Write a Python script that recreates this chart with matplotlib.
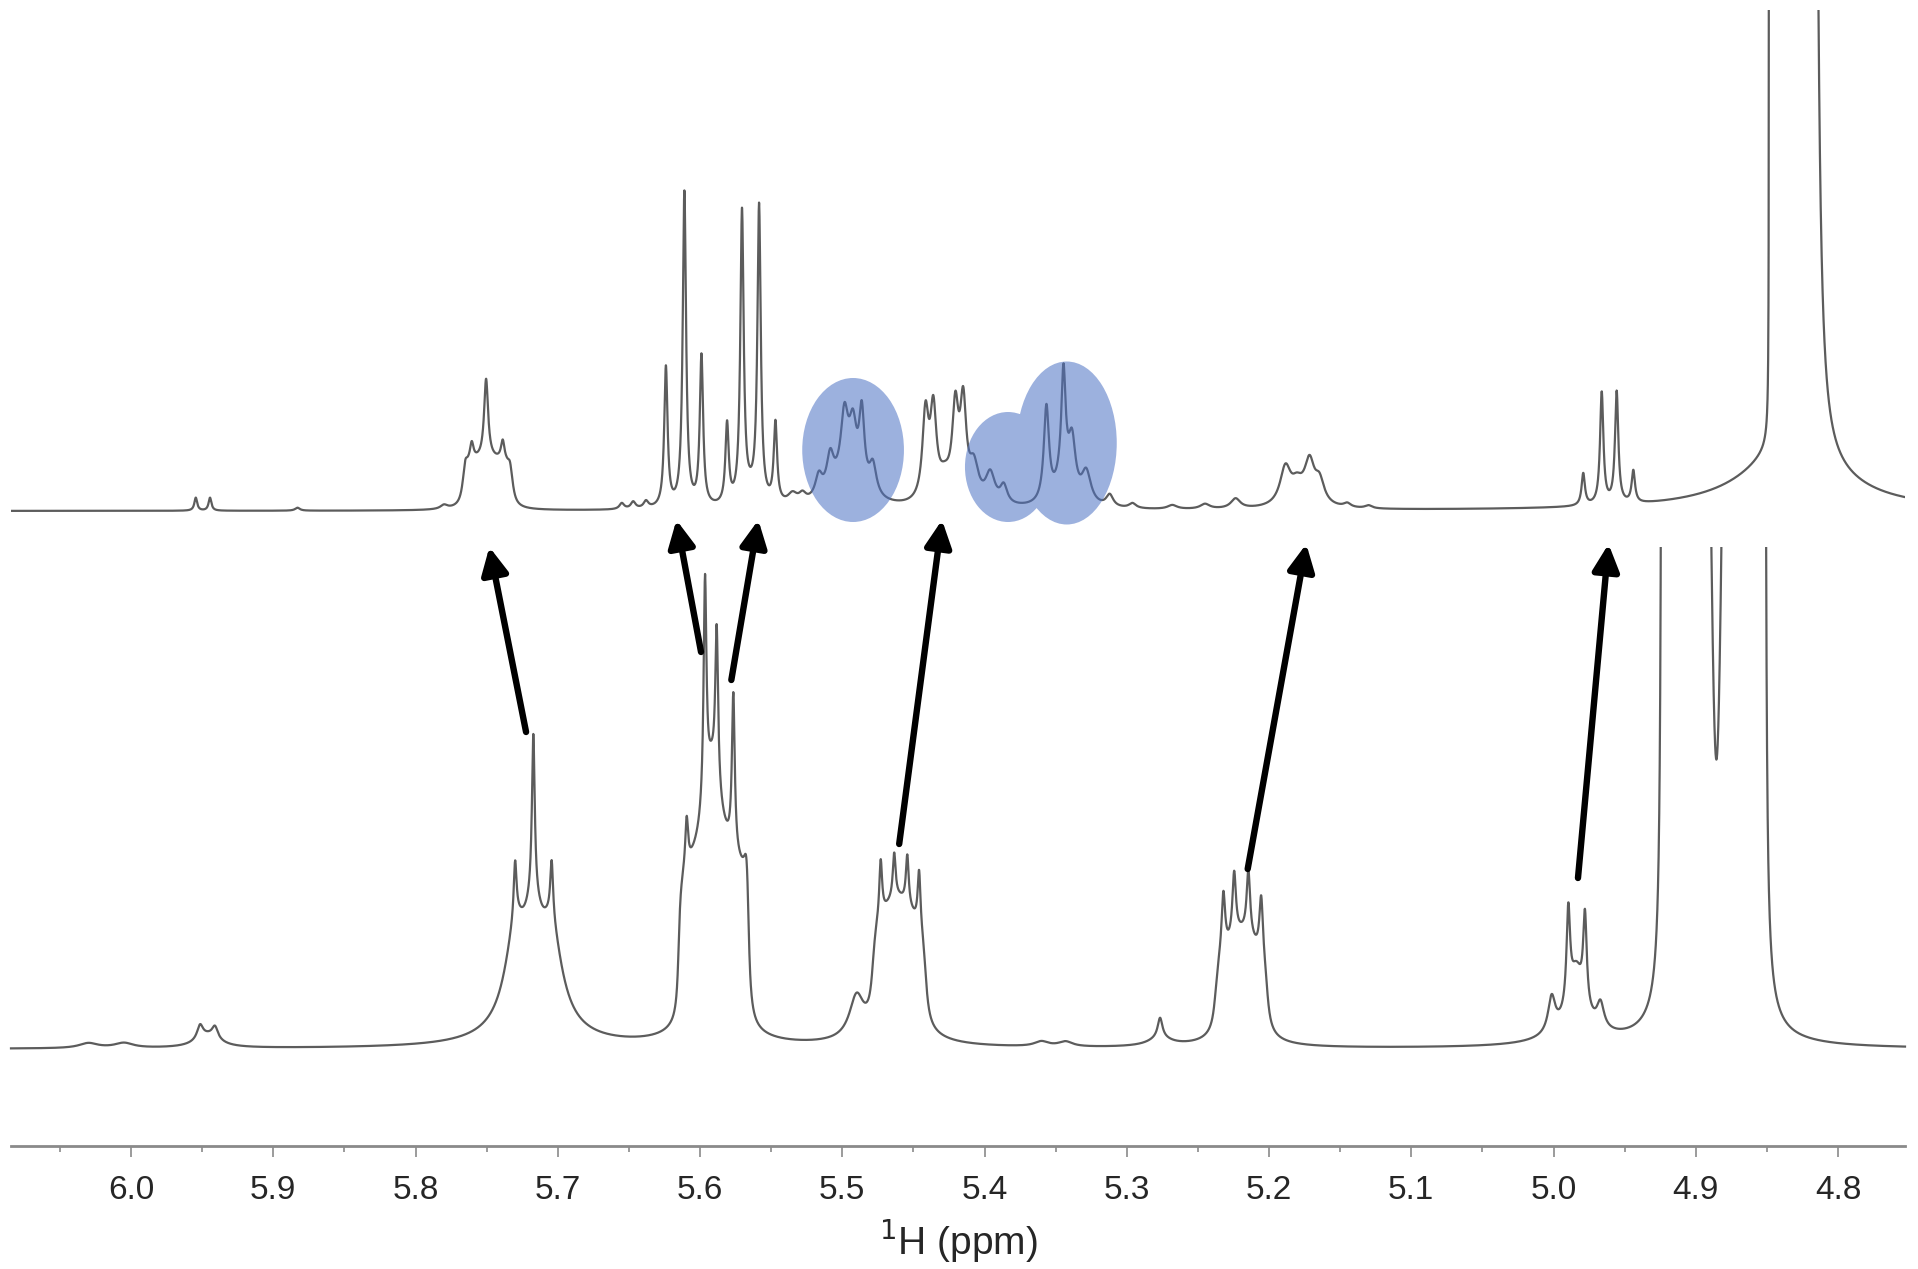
import numpy as np
import matplotlib
matplotlib.use('Agg')
import matplotlib.pyplot as plt
from matplotlib.patches import Ellipse, PathPatch, Rectangle
from matplotlib.path import Path
from matplotlib.ticker import MultipleLocator, FormatStrFormatter

plt.rcParams['font.family'] = ['Liberation Sans', 'DejaVu Sans']

# spectral window (ppm, axis runs high -> low)
ppm_left, ppm_right = 6.0844, 4.7529

# upper spectrum: lorentzian lines
top_ppm = [5.9545, 5.9445, 5.8830, 5.7800,
           5.7650, 5.7605, 5.7504, 5.7387, 5.7336,
           5.6550, 5.6470, 5.6380,
           5.6240, 5.6110, 5.5990, 5.5810, 5.5705, 5.5585, 5.5470, 5.5645, 5.5350, 5.5280,
           5.5165, 5.5085, 5.4985, 5.4925, 5.4863, 5.4785, 5.4960,
           5.4415, 5.4360, 5.4205, 5.4150, 5.4280,
           5.4075, 5.3960, 5.3865,
           5.3565, 5.3445, 5.3385, 5.3285, 5.3120, 5.3450,
           5.2960, 5.2680, 5.2450, 5.2235,
           5.1885, 5.1805, 5.1715, 5.1645, 5.1780, 5.1450, 5.1300,
           4.9791, 4.9661, 4.9556, 4.9439,
           4.8175, 4.8320]
top_height = [13, 13, 3, 4,
              10, 18, 80, 20, 8,
              6, 7, 7,
              140, 315, 150, 80, 290, 295, 80, 10, 10, 8,
              22, 35, 60, 48, 72, 30, 32,
              85, 85, 85, 92, 22,
              35, 30, 18,
              95, 105, 55, 32, 12, 25,
              5, 4, 5, 10,
              36, 10, 37, 22, 12, 4, 3,
              32, 112, 112, 32,
              2000, 62]
top_width = [0.0012, 0.0012, 0.002, 0.003,
             0.0015, 0.0015, 0.0017, 0.0015, 0.0015,
             0.002, 0.002, 0.002,
             0.0014, 0.0014, 0.0014, 0.0014, 0.0014, 0.0014, 0.0014, 0.006, 0.004, 0.003,
             0.003, 0.003, 0.003, 0.003, 0.0022, 0.003, 0.012,
             0.0026, 0.0026, 0.0026, 0.0026, 0.006,
             0.004, 0.004, 0.003,
             0.0022, 0.0018, 0.003, 0.004, 0.003, 0.006,
             0.003, 0.004, 0.004, 0.004,
             0.0045, 0.004, 0.004, 0.004, 0.010, 0.003, 0.003,
             0.0014, 0.0014, 0.0014, 0.0014,
             0.002, 0.038]
# broad / saturated signals (flat top between lo and hi)
top_block_lo = [5.7320, 4.8175]
top_block_hi = [5.7665, 4.8485]
top_block_height = [55, 6000]
top_block_edge = [0.002, 0.00003]

# lower spectrum
bot_ppm = [6.0300, 6.0050, 5.9515, 5.9410, 5.9460,
           5.7300, 5.7172, 5.7043, 5.7170, 5.7300, 5.7172, 5.7043,
           5.5900, 5.5920, 5.6094, 5.5965, 5.5883, 5.5766, 5.5672,
           5.4610, 5.4900, 5.4730, 5.4635, 5.4543, 5.4460,
           5.3600, 5.3430, 5.2766, 5.2766,
           5.2190, 5.2321, 5.2245, 5.2145, 5.2055,
           4.9896, 4.9779, 4.9840, 5.0013, 4.9670, 4.9840]
bot_height = [5, 5, 14, 12, 12,
              80, 80, 80, 15, 58, 165, 58,
              45, 70, 50, 225, 160, 158, 40,
              40, 40, 58, 45, 50, 58,
              5, 5, 20, 8,
              30, 62, 65, 65, 62,
              95, 90, 55, 35, 25, 15]
bot_width = [0.008, 0.008, 0.0025, 0.0025, 0.010,
             0.009, 0.009, 0.009, 0.030, 0.0012, 0.0012, 0.0012,
             0.015, 0.006, 0.0012, 0.0012, 0.0012, 0.0012, 0.002,
             0.015, 0.006, 0.0012, 0.0012, 0.0012, 0.0012,
             0.006, 0.006, 0.002, 0.010,
             0.012, 0.0015, 0.0015, 0.0015, 0.0015,
             0.0015, 0.0015, 0.006, 0.003, 0.003, 0.020]
bot_block_lo = [5.5660, 5.4415, 5.2015, 4.8513]
bot_block_hi = [5.6150, 5.4785, 5.2375, 4.9238]
bot_block_height = [165, 115, 90, 3000]
bot_block_edge = [0.0012, 0.002, 0.002, 0.00052]
# presaturation hole in the solvent signal
notch_ppm, notch_depth, notch_width = 4.8855, 0.903, 0.012

top_offset = 635
bot_offset = 97
bot_cap = 502

# arrows: lower spectrum position -> upper spectrum position
arrow_from_ppm = [5.7223, 5.5993, 5.5780, 5.4600, 5.2150, 4.9828]
arrow_from_y = [317, 397, 369, 205, 180, 171]
arrow_to_ppm = [5.7481, 5.6166, 5.5590, 5.4299, 5.1738, 4.9613]
arrow_to_y = [-36, -9, -9, -9, -33, -33]

# highlighted regions on the upper spectrum
ell_ppm = [5.4924, 5.3835, 5.3422]
ell_y = [61, 44, 68]
ell_w = [0.0715, 0.0605, 0.0703]
ell_h = [144, 110, 163]


def lorentz(x, c, h, g):
    return h * g ** 2 / ((x - c) ** 2 + g ** 2)


def block(x, lo, hi, h, e):
    return h / np.pi * (np.arctan((x - lo) / e) - np.arctan((x - hi) / e))


x = np.linspace(ppm_left, ppm_right, 12000)

top = np.zeros_like(x)
for c, h, g in zip(top_ppm, top_height, top_width):
    top += lorentz(x, c, h, g)
for lo, hi, h, e in zip(top_block_lo, top_block_hi, top_block_height, top_block_edge):
    top += block(x, lo, hi, h, e)

bot = np.zeros_like(x)
for c, h, g in zip(bot_ppm, bot_height, bot_width):
    bot += lorentz(x, c, h, g)
blk = np.zeros_like(x)
for lo, hi, h, e in zip(bot_block_lo, bot_block_hi, bot_block_height, bot_block_edge):
    blk += block(x, lo, hi, h, e)
blk *= 1 - notch_depth * notch_width ** 2 / ((x - notch_ppm) ** 2 + notch_width ** 2)
bot += blk

fig = plt.figure(figsize=(19.18, 12.69), dpi=100)
ax = fig.add_axes([11 / 1918, 123 / 1269, 1894 / 1918, 1136 / 1269])

trace_col = '#5c5c5c'
ax.plot(x, top + top_offset, color=trace_col, lw=1.6, zorder=2)
lb, = ax.plot(x, bot + bot_offset, color=trace_col, lw=1.6, zorder=2)
clip = Rectangle((4.5, -50), 2.0, bot_offset + bot_cap + 50, transform=ax.transData)
lb.set_clip_path(clip)

# blue ellipses as one patch so overlaps do not darken
paths = []
for c, yy, w, h in zip(ell_ppm, ell_y, ell_w, ell_h):
    e = Ellipse((c, yy + top_offset), w, h)
    paths.append(e.get_patch_transform().transform_path(e.get_path()))
ax.add_patch(PathPatch(Path.make_compound_path(*paths), facecolor=(76 / 255, 113 / 255, 195 / 255),
                       edgecolor='none', alpha=0.55, zorder=3))

for x0, y0, x1, y1 in zip(arrow_from_ppm, arrow_from_y, arrow_to_ppm, arrow_to_y):
    ax.annotate('', xy=(x1, y1 + top_offset), xytext=(x0, y0 + bot_offset),
                arrowprops=dict(arrowstyle='-|>,head_length=0.8,head_width=0.4', color='black',
                                lw=4.6, shrinkA=0, shrinkB=0, mutation_scale=20), zorder=4)

ax.set_xlim(ppm_left, ppm_right)
ax.set_ylim(0, 1136)
for s in ['left', 'right', 'top']:
    ax.spines[s].set_visible(False)
ax.spines['bottom'].set_color('#8a8a8a')
ax.spines['bottom'].set_linewidth(2)
ax.set_yticks([])
ax.xaxis.set_major_locator(MultipleLocator(0.1))
ax.xaxis.set_minor_locator(MultipleLocator(0.05))
ax.xaxis.set_major_formatter(FormatStrFormatter('%.1f'))
ax.tick_params(axis='x', which='major', length=8, width=1.2, color='#8a8a8a', pad=13,
               labelsize=24, labelcolor='#262626')
ax.tick_params(axis='x', which='minor', length=4, width=1.2, color='#8a8a8a')
ax.set_xlabel('$^{1}$H (ppm)', fontsize=28, color='#262626', labelpad=8)

fig.savefig('out.png', dpi=100)
